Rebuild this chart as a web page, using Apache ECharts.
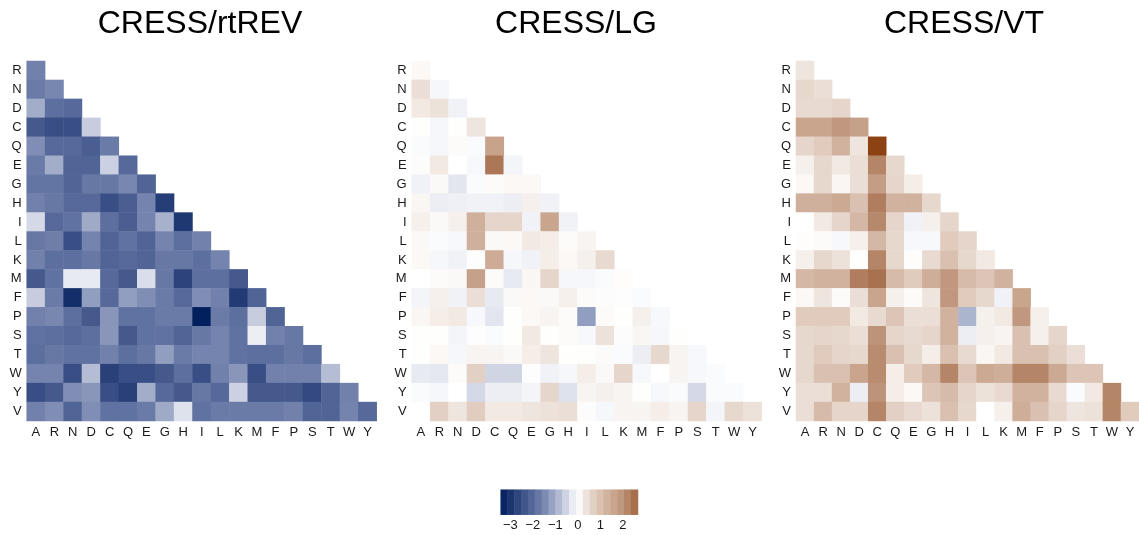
<!DOCTYPE html>
<html>
<head>
<meta charset="utf-8">
<script src="https://cdn.jsdelivr.net/npm/echarts@6/dist/echarts.min.js"></script>
<style>
  html, body { margin: 0; padding: 0; background: #fff; }
  #chart { width: 1139px; height: 535px; }
</style>
</head>
<body>
<div id="chart"></div>
<script>
// row / column amino acids (lower triangle)
const rowLabels = ['R', 'N', 'D', 'C', 'Q', 'E', 'G', 'H', 'I', 'L', 'K', 'M', 'F', 'P', 'S', 'T', 'W', 'Y', 'V']
const colLabels = ['A', 'R', 'N', 'D', 'C', 'Q', 'E', 'G', 'H', 'I', 'L', 'K', 'M', 'F', 'P', 'S', 'T', 'W', 'Y']
const panelTitles = ['CRESS/rtREV', 'CRESS/LG', 'CRESS/VT']

const rtrevValues = [
  [-1.6],
  [-1.7, -1.5],
  [-1.0, -1.9, -2.0],
  [-2.3, -2.5, -2.5, -0.6],
  [-1.4, -2.0, -2.0, -2.2, -1.7],
  [-1.7, -1.0, -2.1, -2.1, -0.55, -2.0],
  [-1.8, -1.8, -2.1, -1.75, -1.75, -1.5, -2.1],
  [-1.6, -1.75, -2.0, -2.0, -2.5, -2.2, -1.55, -2.8],
  [-0.45, -2.0, -1.85, -1.05, -1.9, -2.2, -1.55, -0.95, -2.9],
  [-1.75, -1.65, -2.5, -1.55, -2.1, -1.85, -2.1, -1.55, -1.9, -1.6],
  [-1.6, -1.9, -1.9, -1.75, -2.1, -2.0, -2.1, -1.75, -1.75, -1.9, -1.55],
  [-2.3, -1.85, -0.25, -0.25, -2.0, -2.3, -0.4, -1.75, -2.7, -1.9, -1.9, -2.3],
  [-0.6, -1.7, -3.1, -1.2, -2.0, -1.2, -1.4, -1.7, -2.0, -1.4, -1.6, -2.85, -2.1],
  [-1.6, -1.5, -1.9, -2.3, -1.3, -1.85, -1.85, -1.7, -1.7, -3.4, -1.7, -1.9, -0.6, -2.1],
  [-1.85, -1.9, -2.0, -1.9, -1.3, -2.3, -1.85, -1.85, -2.1, -1.75, -1.55, -1.85, -0.2, -1.6, -1.75],
  [-1.9, -1.75, -1.85, -1.85, -1.6, -1.9, -1.75, -1.2, -1.7, -1.55, -1.55, -1.85, -1.9, -1.9, -1.75, -1.9],
  [-1.55, -1.55, -2.5, -0.8, -2.75, -2.5, -2.5, -2.3, -1.9, -2.5, -1.6, -1.3, -2.5, -1.6, -1.6, -1.6, -0.8],
  [-2.5, -2.3, -1.4, -1.3, -2.5, -2.75, -1.0, -2.0, -2.3, -1.75, -2.0, -0.55, -2.3, -2.3, -2.3, -2.6, -2.1, -1.6],
  [-1.6, -1.4, -2.1, -1.4, -1.85, -1.85, -1.7, -1.05, -0.35, -1.85, -1.7, -1.7, -1.7, -1.7, -1.6, -2.1, -2.1, -1.55, -2.0]
]

const lgValues = [
  [0.1],
  [0.45, -0.1],
  [0.3, 0.4, -0.15],
  [0.02, -0.1, 0.02, 0.35],
  [-0.05, -0.1, 0.05, -0.05, 1.65],
  [-0.03, 0.3, 0, -0.08, 2.4, -0.12],
  [-0.15, 0.08, -0.3, -0.05, 0.05, 0.1, 0.1],
  [0.12, -0.2, -0.18, -0.15, -0.15, -0.2, 0.2, -0.15],
  [0.2, 0.08, 0.2, 1.35, 0.6, 0.6, -0.15, 1.6, -0.15],
  [0.08, -0.05, -0.08, 1.35, 0.08, 0.1, 0.3, 0.25, 0.05, 0.15],
  [0.1, -0.1, -0.15, -0.02, 1.45, -0.1, -0.15, 0.25, 0.1, 0.2, 0.5],
  [0, 0.05, 0.08, 1.7, 0.05, -0.25, 0.12, 0.6, -0.1, -0.1, -0.05, 0.03],
  [-0.12, 0.2, -0.15, 0.45, -0.25, 0.08, 0.1, 0.08, 0.2, 0.05, -0.03, -0.02, -0.05],
  [0.12, 0.25, 0.3, -0.08, -0.3, 0.02, 0.1, 0.15, 0.05, -1.2, 0.05, 0.02, 0.2, -0.08],
  [0.02, 0.02, -0.12, -0.02, -0.05, 0.02, 0.3, 0.02, 0.05, -0.08, 0.4, -0.03, 0.12, -0.1, 0.02],
  [0.02, 0.1, -0.1, 0.15, 0.15, 0.08, 0.25, 0.35, 0.02, 0.02, 0.05, -0.05, -0.2, 0.55, 0.15, -0.08],
  [-0.25, -0.28, 0.05, 0.7, -0.5, -0.5, -0.02, -0.15, -0.1, 0.25, 0.08, 0.6, -0.08, 0, 0.15, -0.08, -0.05],
  [-0.05, -0.1, 0, -0.45, -0.2, -0.2, -0.12, 0.6, -0.35, 0.15, 0.2, 0.15, 0.02, -0.08, -0.05, -0.45, -0.05, -0.05],
  [0, 0.7, 0.35, 0.75, 0.3, 0.3, 0.35, 0.4, 0.45, -0.03, -0.1, 0.15, 0.15, 0.25, 0.15, 0.6, -0.12, 0.55, 0.4]
]

const vtValues = [
  [0.35],
  [0.55, 0.45],
  [0.5, 0.5, 0.6],
  [1.6, 1.6, 1.9, 1.7],
  [0.6, 0.8, 1.3, 0.35, 3.3],
  [0.2, 0.55, 0.3, 0.45, 2.2, 0.55],
  [0.1, 0.55, 0.12, 0.45, 1.8, 0.6, 0.25],
  [1.35, 1.35, 1.5, 1.0, 2.3, 1.3, 1.3, 0.55],
  [0, 0.3, 0.6, 1.2, 2.15, 0.6, -0.15, 0.2, 0.6],
  [0.03, 0.05, -0.08, 0.2, 1.2, 0.55, -0.08, -0.08, 0.8, 0.6],
  [0.2, 0.55, 0.4, 0.02, 2.2, 0.55, 0.03, 0.5, 1.0, 0.55, 0.3],
  [1.2, 1.3, 1.3, 2.3, 2.5, 1.1, 0.8, 1.4, 1.9, 1.1, 0.9, 1.3],
  [0.1, 0.35, 0.05, 0.45, 1.6, 0.2, 0.05, 0.35, 1.9, 0.8, 0.55, -0.15, 1.6],
  [0.8, 0.8, 0.8, 0.3, 0.5, 0.9, 0.45, 0.45, 1.3, -0.9, 0.2, 0.3, 1.9, 0.2],
  [0.55, 0.6, 0.55, 0.45, 2.0, 0.6, 0.5, 0.6, 1.3, -0.2, 0.2, 0.15, 1.0, 0.2, 0.6],
  [0.55, 0.8, 0.6, 0.55, 2.1, 1.0, 0.55, 0.25, 1.0, 0.5, 0.12, 0.3, 1.0, 1.0, 0.7, 0.45],
  [0.55, 1.0, 1.0, 1.6, 2.1, 0.25, 0.8, 1.2, 2.2, 0.9, 1.5, 1.4, 2.2, 2.2, 1.5, 0.9, 0.9],
  [0.45, 0.45, 1.3, -0.2, 2.0, 0.25, 0.1, 0.9, 1.1, 0.6, 0.4, 0.5, 1.3, 1.3, 0.5, -0.05, 0.3, 2.2],
  [0.45, 1.1, 0.6, 0.6, 2.2, 0.7, 0.5, 0.4, 1.0, 0.55, 0, 0.2, 1.4, 1.0, 0.6, 0.35, 0.4, 2.2, 0.8]
]

// legend: block centres of the stepped colour bar and its labels
const colorbarSteps = [-3.28, -2.97, -2.67, -2.36, -2.06, -1.75, -1.45, -1.14, -0.84, -0.53,
  -0.23, 0.08, 0.38, 0.69, 0.99, 1.30, 1.60, 1.91, 2.21, 2.52]
const colorbarTicks = [-3, -2, -1, 0, 1, 2]
const colorbarMin = -3.43
const colorbarMax = 2.67

const palette = ['#001f5c', '#1d3670', '#3c5187', '#586b9c', '#7a89b1', '#a4afca', '#d1d6e5', '#ffffff',
  '#e9dbd2', '#dac1b1', '#ccaa95', '#bf967c', '#aa7452', '#985830', '#873a08']

const panels = [rtrevValues, lgValues, vtValues]
const gridLefts = [26.7, 411.7, 796]
const titleCenters = [200, 576, 964]
const labelFont = 'Liberation Sans'

const toCells = rows => {
  const cells = []
  rows.forEach((row, i) => row.forEach((v, j) => cells.push([j, i, v])))
  return cells
}

const chart = echarts.init(document.getElementById('chart'), null, { renderer: 'canvas' })

const grids = gridLefts.map(left => ({ left: left, top: 61, width: 350, height: 360 }))
grids.push({ left: 500.7, top: 489.7, width: 137.3, height: 25 })

const xAxes = gridLefts.map((_, k) => ({
  type: 'category',
  gridIndex: k,
  data: colLabels,
  axisLine: { show: false },
  axisTick: { show: false },
  splitLine: { show: false },
  axisLabel: { margin: 5, fontSize: 13, color: '#1a1a1a', fontFamily: labelFont }
}))
xAxes.push({
  type: 'category',
  gridIndex: 3,
  data: colorbarSteps.map(String),
  show: false
})
xAxes.push({
  type: 'value',
  gridIndex: 3,
  min: colorbarMin,
  max: colorbarMax,
  position: 'bottom',
  axisLine: { show: false },
  axisTick: { show: false },
  splitLine: { show: false },
  axisLabel: {
    customValues: colorbarTicks,
    margin: 4,
    fontSize: 13,
    color: '#1a1a1a',
    fontFamily: labelFont,
    formatter: v => (v < 0 ? '\u2212' + Math.abs(v) : String(v))
  }
})

const yAxes = gridLefts.map((_, k) => ({
  type: 'category',
  gridIndex: k,
  data: rowLabels,
  inverse: true,
  axisLine: { show: false },
  axisTick: { show: false },
  splitLine: { show: false },
  axisLabel: { margin: 5, fontSize: 13, color: '#1a1a1a', fontFamily: labelFont }
}))
yAxes.push({ type: 'category', gridIndex: 3, data: ['bar'], show: false })

const series = panels.map((rows, k) => ({
  type: 'heatmap',
  xAxisIndex: k,
  yAxisIndex: k,
  data: toCells(rows),
  itemStyle: { borderWidth: 0 },
  emphasis: { disabled: true }
}))
series.push({
  type: 'heatmap',
  xAxisIndex: 3,
  yAxisIndex: 3,
  data: colorbarSteps.map((v, i) => [i, 0, v]),
  itemStyle: { borderWidth: 0 },
  emphasis: { disabled: true }
})

const option = {
  animation: false,
  backgroundColor: '#ffffff',
  title: panelTitles.map((t, k) => ({
    text: t,
    left: titleCenters[k],
    top: 8,
    padding: 0,
    textAlign: 'center',
    textStyle: { fontSize: 32, fontWeight: 'normal', color: '#000', fontFamily: 'Liberation Sans' }
  })),
  grid: grids,
  xAxis: xAxes,
  yAxis: yAxes,
  visualMap: {
    show: false,
    type: 'continuous',
    dimension: 2,
    min: -3.43,
    max: 3.43,
    seriesIndex: [0, 1, 2, 3],
    inRange: { color: palette }
  },
  series: series
}

chart.setOption(option)
</script>
</body>
</html>
